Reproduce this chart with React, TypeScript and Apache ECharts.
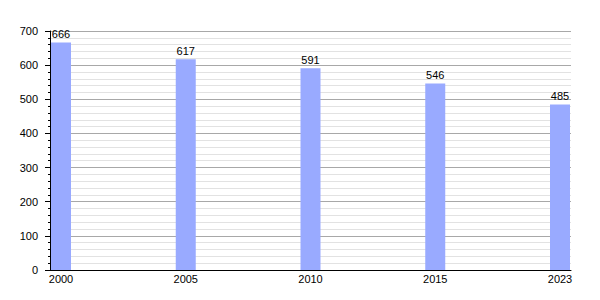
import React, { useEffect, useRef } from "react";
import * as echarts from "echarts";

const years = ["2000", "2005", "2010", "2015", "2023"];
const values = [666, 617, 591, 546, 485];
const yTicks = [0, 100, 200, 300, 400, 500, 600, 700];

export default function App() {
  const ref = useRef<HTMLDivElement>(null);
  useEffect(() => {
    if (!ref.current) return;
    const chart = echarts.init(ref.current, null, { renderer: "svg" });
    const font = "Liberation Sans, Arial, sans-serif";
    chart.setOption({
      animation: false,
      backgroundColor: "#ffffff",
      grid: { left: 50, right: 29, top: 31, bottom: 30, containLabel: false },
      xAxis: {
        type: "value",
        min: -0.0882,
        max: 4.0882,
        axisLine: { show: true, onZero: false, lineStyle: { color: "#000", width: 1 } },
        axisTick: { show: false },
        splitLine: { show: false },
        axisLabel: {
          customValues: years.map((_, i) => i),
          formatter: (v: number) => years[Math.round(v)] ?? "",
          color: "#000",
          fontSize: 11,
          fontFamily: font,
          margin: 3,
          showMinLabel: true,
          showMaxLabel: true,
        },
      },
      yAxis: {
        type: "value",
        min: yTicks[0],
        max: yTicks[yTicks.length - 1],
        interval: 100,
        axisLine: { show: true, onZero: false, lineStyle: { color: "#000", width: 1 } },
        axisTick: { show: true, length: 5, lineStyle: { color: "#000" } },
        minorTick: { show: true, splitNumber: 5, length: 2, lineStyle: { color: "#000" } },
        splitLine: { show: true, lineStyle: { color: "#a8a8a8", width: 1 } },
        minorSplitLine: { show: true, lineStyle: { color: "#e2e2e2", width: 1 } },
        axisLabel: {
          color: "#000",
          fontSize: 11,
          fontFamily: font,
          margin: 12,
        },
      },
      series: [
        {
          type: "bar",
          data: values.map((v, i) => [i, v]),
          barWidth: 20,
          itemStyle: { color: "#99aaff" },
          label: {
            show: true,
            position: "top",
            distance: 3,
            color: "#000",
            fontSize: 11,
            fontFamily: font,
          },
        },
      ],
    });
    return () => chart.dispose();
  }, []);
  return (
    <div
      ref={ref}
      style={{ position: "absolute", left: 0, top: 0, width: 600, height: 300 }}
    />
  );
}
